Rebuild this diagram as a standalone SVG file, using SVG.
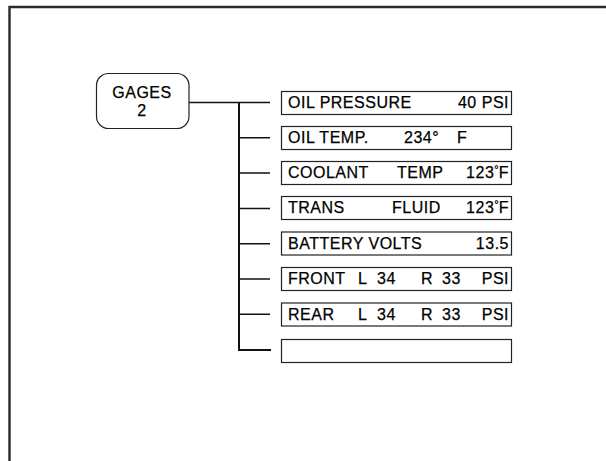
<svg xmlns="http://www.w3.org/2000/svg" width="606" height="461" viewBox="0 0 606 461">
<style>
.frame{stroke:#2a2a2a;stroke-width:2.4;fill:none}
.box{fill:#fff;stroke:#222;stroke-width:1.2}
.ln{stroke:#111;stroke-width:1.5;fill:none}
.trunk{stroke:#111;stroke-width:2;fill:none}
text{font-family:"Liberation Sans",Arial,sans-serif;font-size:16px;fill:#000;stroke:#000;stroke-width:0.25;letter-spacing:0.5px}
.deg{font-size:11px;letter-spacing:0}
</style>
<rect width="606" height="461" fill="#fff"/>
<path class="frame" d="M9.5 461 V7 H606"/>
<g id="connectors">
<path class="ln" d="M189 102.5 H270"/>
<path class="trunk" d="M239 102.5 V350 H271"/>
<path class="ln" d="M239 137.8 H270 M239 173.1 H270 M239 208.4 H270 M239 243.7 H270 M239 279 H270 M239 314.3 H270"/>
</g>
<g id="gages">
<rect class="box" x="96.5" y="73.5" width="92.5" height="55" rx="12" ry="12"/>
<text x="142" y="98" text-anchor="middle">GAGES</text>
<text x="142" y="116" text-anchor="middle">2</text>
</g>
<g id="oil-pressure">
<rect class="box" x="281.5" y="91.5" width="230" height="23"/>
<text x="288" y="108">OIL PRESSURE</text>
<text x="509" y="108" text-anchor="end">40 PSI</text>
</g>
<g id="oil-temp">
<rect class="box" x="281.5" y="126.5" width="230" height="23"/>
<text x="288" y="143">OIL TEMP.</text>
<text x="404" y="143">234°</text>
<text x="457" y="143">F</text>
</g>
<g id="coolant-temp">
<rect class="box" x="281.5" y="161.5" width="230" height="23"/>
<text x="288" y="178">COOLANT</text>
<text x="397" y="178">TEMP</text>
<text x="509" y="178" text-anchor="end">123<tspan class="deg" dy="-5">°</tspan><tspan dy="5">F</tspan></text>
</g>
<g id="trans-fluid">
<rect class="box" x="281.5" y="196.5" width="230" height="23"/>
<text x="288" y="213">TRANS</text>
<text x="392" y="213">FLUID</text>
<text x="509" y="213" text-anchor="end">123<tspan class="deg" dy="-5">°</tspan><tspan dy="5">F</tspan></text>
</g>
<g id="battery-volts">
<rect class="box" x="281.5" y="232" width="230" height="23"/>
<text x="288" y="248.5">BATTERY VOLTS</text>
<text x="509" y="248.5" text-anchor="end">13.5</text>
</g>
<g id="front">
<rect class="box" x="281.5" y="267.5" width="230" height="23"/>
<text x="288" y="284">FRONT</text>
<text x="358" y="284">L</text>
<text x="377" y="284">34</text>
<text x="421" y="284">R</text>
<text x="442" y="284">33</text>
<text x="509" y="284" text-anchor="end">PSI</text>
</g>
<g id="rear">
<rect class="box" x="281.5" y="303" width="230" height="23"/>
<text x="288" y="319.5">REAR</text>
<text x="358" y="319.5">L</text>
<text x="377" y="319.5">34</text>
<text x="421" y="319.5">R</text>
<text x="442" y="319.5">33</text>
<text x="509" y="319.5" text-anchor="end">PSI</text>
</g>
<g id="empty">
<rect class="box" x="281.5" y="339.5" width="230" height="23"/>
</g>
</svg>
